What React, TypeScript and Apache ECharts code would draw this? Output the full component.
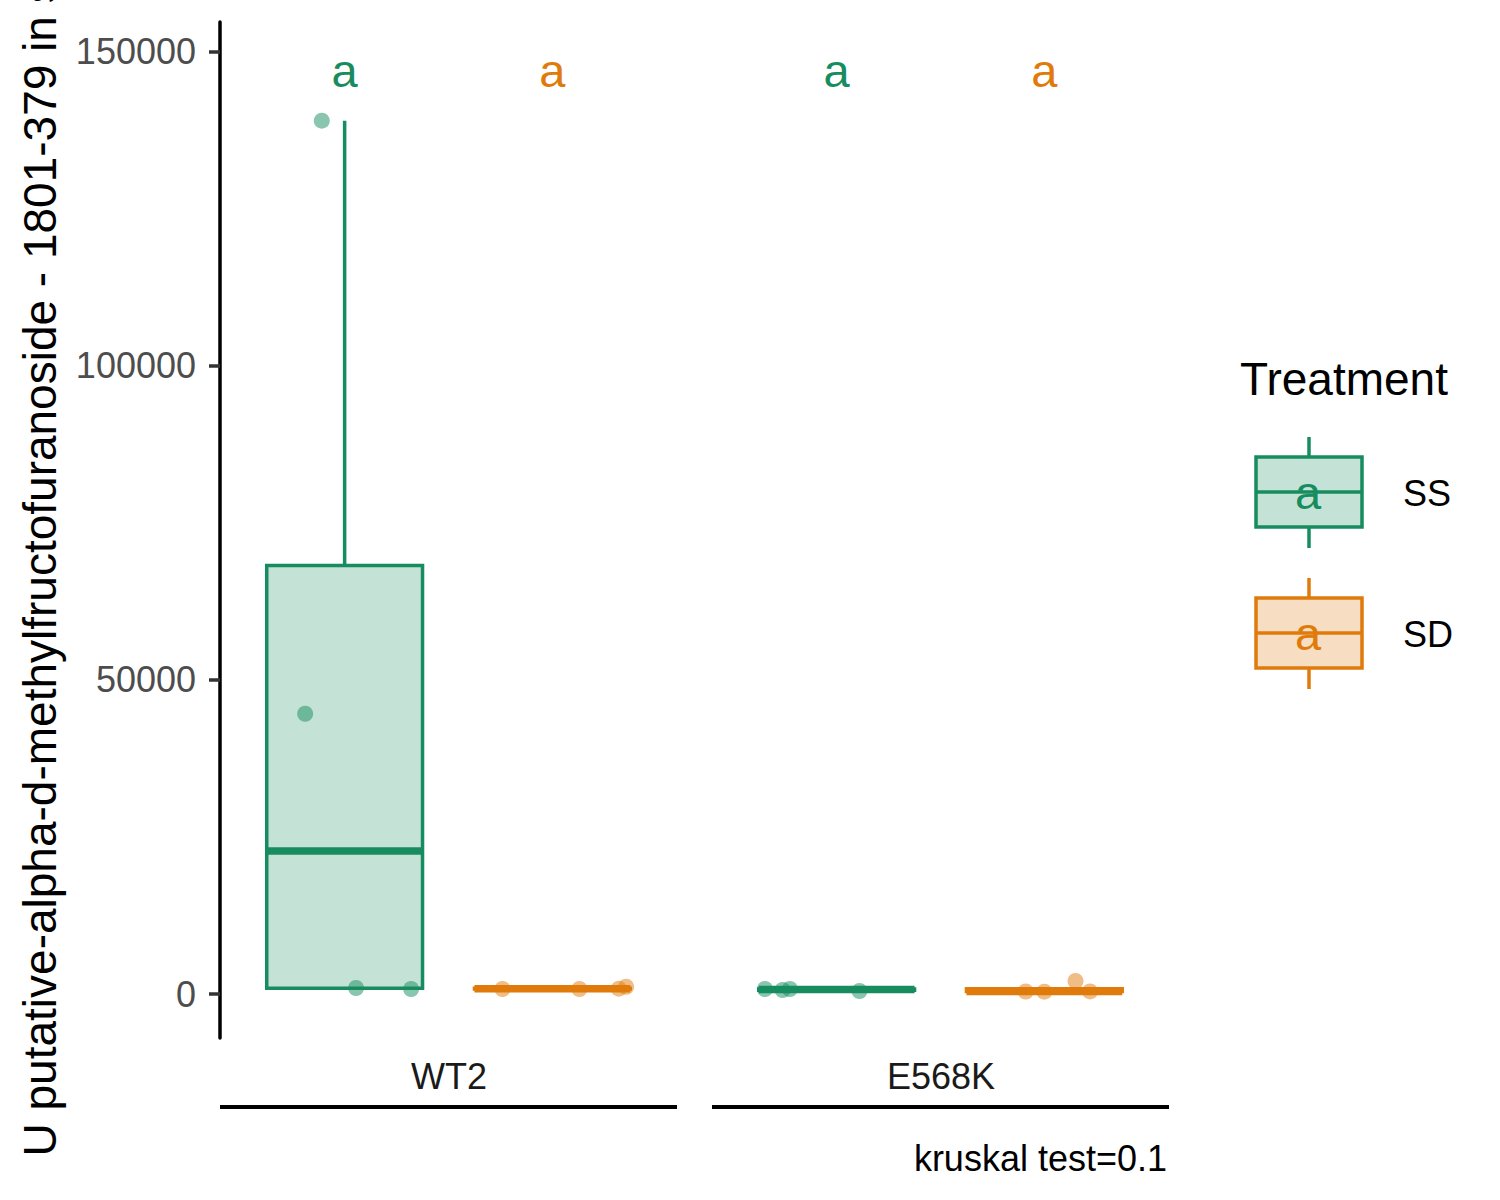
import { useEffect, useRef } from 'react';
import * as echarts from 'echarts';

const facets = ['WT2', 'E568K'];
const treatments = ['SS', 'SD'];
const treatmentColors = ['#168C5F', '#E07B0B'];
const treatmentFills = ['rgba(22,140,95,0.25)', 'rgba(224,123,11,0.25)'];

const wt2SS = [139000, 44600, 950, 800];
const wt2SD = [800, 800, 850, 1150];
const e568kSS = [800, 640, 800, 480];
const e568kSD = [400, 380, 2070, 420];

// horizontal jitter of each point around its box centre (category units)
const wt2SSJitter = [-0.11, -0.19, 0.055, 0.32];
const wt2SDJitter = [-0.24, 0.13, 0.32, 0.355];
const e568kSSJitter = [-0.345, -0.26, -0.225, 0.11];
const e568kSDJitter = [-0.09, 0.0, 0.15, 0.22];

const letters = [
  ['a', 'a'],
  ['a', 'a'],
];
const letterY = 147000;

const yTicks = [0, 50000, 100000, 150000];
const yMin = -7000;
const yMax = 154700;
const yTitle = 'U putative-alpha-d-methylfructofuranoside - 1801-379 in seed';
const legendTitle = 'Treatment';
const caption = 'kruskal test=0.1';

const FONT = '"Liberation Sans", Arial, Helvetica, sans-serif';
const BOX_WIDTH = 0.75;

function quantile(sorted: number[], p: number) {
  const h = (sorted.length - 1) * p;
  const lo = Math.floor(h);
  const hi = Math.ceil(h);
  return sorted[lo] + (h - lo) * (sorted[hi] - sorted[lo]);
}

// ggplot-style box statistics: whisker ends, hinges, median
function boxStats(values: number[]) {
  const s = [...values].sort((a, b) => a - b);
  const q1 = quantile(s, 0.25);
  const med = quantile(s, 0.5);
  const q3 = quantile(s, 0.75);
  const iqr = q3 - q1;
  const lo = Math.min(...s.filter((v) => v >= q1 - 1.5 * iqr));
  const hi = Math.max(...s.filter((v) => v <= q3 + 1.5 * iqr));
  return [lo, q1, med, q3, hi];
}

const groups = [
  [wt2SS, wt2SD],
  [e568kSS, e568kSD],
];
const jitters = [
  [wt2SSJitter, wt2SDJitter],
  [e568kSSJitter, e568kSDJitter],
];

function textStyle(text: string, fill: string, fontSize: number, align: string) {
  return {
    text,
    fill,
    fontSize,
    fontFamily: FONT,
    align,
    verticalAlign: 'middle',
    textAlign: align,
    textVerticalAlign: 'middle',
  };
}

function legendKey(t: number, top: number) {
  const color = treatmentColors[t];
  const cx = 1309;
  return [
    { type: 'line', shape: { x1: cx, y1: top, x2: cx, y2: top + 20 }, style: { stroke: color, lineWidth: 3.5 } },
    { type: 'line', shape: { x1: cx, y1: top + 90, x2: cx, y2: top + 111 }, style: { stroke: color, lineWidth: 3.5 } },
    {
      type: 'rect',
      shape: { x: 1256, y: top + 20, width: 106, height: 70 },
      style: { fill: treatmentFills[t], stroke: color, lineWidth: 3.5 },
    },
    { type: 'line', shape: { x1: 1256, y1: top + 55, x2: 1362, y2: top + 55 }, style: { stroke: color, lineWidth: 3.5 } },
    { type: 'text', x: 1308, y: top + 55, style: textStyle('a', color, 47, 'center') },
    { type: 'text', x: 1403, y: top + 56, style: textStyle(treatments[t], '#000000', 36, 'left') },
  ];
}

export default function App() {
  const chartRef = useRef<HTMLDivElement>(null);

  useEffect(() => {
    if (!chartRef.current) return;
    const chart = echarts.init(chartRef.current, undefined, { renderer: 'svg' });

    const series: any[] = [];

    facets.forEach((_f, f) => {
      treatments.forEach((_t, t) => {
        const color = treatmentColors[t];
        series.push({
          type: 'custom',
          xAxisIndex: f,
          yAxisIndex: f,
          clip: false,
          data: [[t, ...boxStats(groups[f][t])]],
          renderItem: (_params: any, api: any) => {
            const x = api.value(0);
            const lo = api.coord([x, api.value(1)]);
            const q1 = api.coord([x, api.value(2)]);
            const med = api.coord([x, api.value(3)]);
            const q3 = api.coord([x, api.value(4)]);
            const hi = api.coord([x, api.value(5)]);
            const w = api.size([BOX_WIDTH, 0])[0];
            const half = w / 2;
            return {
              type: 'group',
              children: [
                {
                  type: 'line',
                  shape: { x1: lo[0], y1: lo[1], x2: q1[0], y2: q1[1] },
                  style: { stroke: color, lineWidth: 3.5 },
                },
                {
                  type: 'line',
                  shape: { x1: q3[0], y1: q3[1], x2: hi[0], y2: hi[1] },
                  style: { stroke: color, lineWidth: 3.5 },
                },
                {
                  type: 'rect',
                  shape: { x: q3[0] - half, y: q3[1], width: w, height: q1[1] - q3[1] },
                  style: { fill: treatmentFills[t], stroke: color, lineWidth: 3.5 },
                },
                {
                  type: 'line',
                  shape: { x1: med[0] - half, y1: med[1], x2: med[0] + half, y2: med[1] },
                  style: { stroke: color, lineWidth: 7.5 },
                },
              ],
            };
          },
        });
      });
    });

    facets.forEach((_f, f) => {
      treatments.forEach((_t, t) => {
        series.push({
          type: 'scatter',
          xAxisIndex: f,
          yAxisIndex: f,
          symbolSize: 16,
          itemStyle: { color: treatmentColors[t], opacity: 0.5 },
          data: groups[f][t].map((v, i) => [t + jitters[f][t][i], v]),
        });
      });
    });

    facets.forEach((_f, f) => {
      series.push({
        type: 'custom',
        xAxisIndex: f,
        yAxisIndex: f,
        clip: false,
        data: letters[f].map((_l, t) => [t, letterY]),
        renderItem: (params: any, api: any) => {
          const p = api.coord([api.value(0), api.value(1)]);
          return {
            type: 'text',
            x: p[0],
            y: p[1],
            style: {
              text: letters[f][params.dataIndex],
              fill: treatmentColors[params.dataIndex],
              fontSize: 47,
              fontFamily: FONT,
              align: 'center',
              verticalAlign: 'middle',
            },
          };
        },
      });
    });

    const option: any = {
      animation: false,
      backgroundColor: '#ffffff',
      textStyle: { fontFamily: FONT },
      grid: [
        { left: 220, top: 22, width: 457, height: 1016, outerBoundsMode: 'none', containLabel: false },
        { left: 712, top: 22, width: 457, height: 1016, outerBoundsMode: 'none', containLabel: false },
      ],
      xAxis: facets.map((_f, f) => ({
        type: 'value',
        gridIndex: f,
        min: -0.6,
        max: 1.6,
        show: false,
        splitLine: { show: false },
      })),
      yAxis: [
        {
          type: 'value',
          gridIndex: 0,
          min: yMin,
          max: yMax,
          name: yTitle,
          nameLocation: 'middle',
          nameGap: 157,
          nameRotate: 90,
          nameTextStyle: { fontSize: 46, color: '#000000', fontFamily: FONT },
          axisLine: { show: true, onZero: false, lineStyle: { color: '#000000', width: 3.5 } },
          axisTick: { show: true, length: 11, lineStyle: { color: '#333333', width: 3.5 }, customValues: yTicks },
          axisLabel: {
            color: '#4D4D4D',
            fontSize: 36,
            fontFamily: FONT,
            margin: 24,
            customValues: yTicks,
            formatter: (v: number) => String(v),
          },
          splitLine: { show: false },
        },
        {
          type: 'value',
          gridIndex: 1,
          min: yMin,
          max: yMax,
          show: false,
          splitLine: { show: false },
        },
      ],
      graphic: [
        // facet strips below the panels
        { type: 'line', shape: { x1: 220, y1: 1107, x2: 677, y2: 1107 }, style: { stroke: '#000000', lineWidth: 4 } },
        { type: 'line', shape: { x1: 712, y1: 1107, x2: 1169, y2: 1107 }, style: { stroke: '#000000', lineWidth: 4 } },
        { type: 'text', x: 449, y: 1076, style: textStyle(facets[0], '#1A1A1A', 36, 'center') },
        { type: 'text', x: 941, y: 1076, style: textStyle(facets[1], '#1A1A1A', 36, 'center') },
        { type: 'text', x: 1167, y: 1158, style: textStyle(caption, '#000000', 36, 'right') },
        // legend
        { type: 'text', x: 1240, y: 379, style: textStyle(legendTitle, '#000000', 46, 'left') },
        ...legendKey(0, 437),
        ...legendKey(1, 578),
      ],
      series,
    };

    chart.setOption(option);

    return () => {
      chart.dispose();
    };
  }, []);

  return (
    <div
      ref={chartRef}
      style={{ position: 'absolute', left: 0, top: 0, width: 1500, height: 1200 }}
    />
  );
}
